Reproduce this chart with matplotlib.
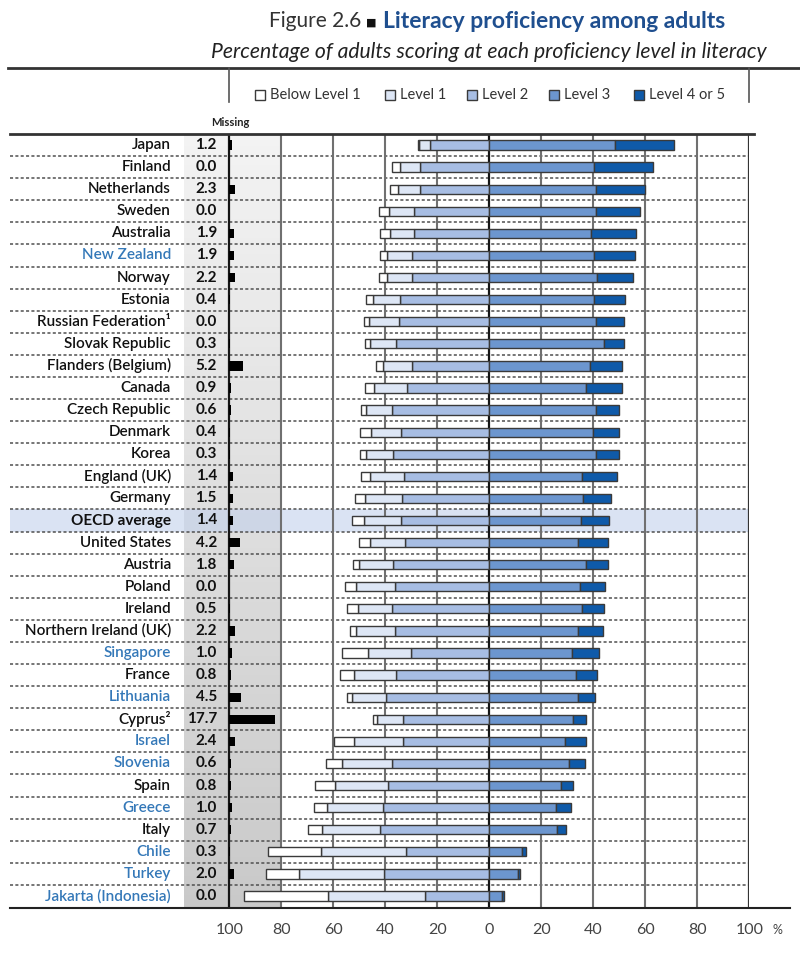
import numpy as np
import matplotlib
matplotlib.use("Agg")
import matplotlib.pyplot as plt
from matplotlib.patches import Rectangle
from matplotlib.lines import Line2D

plt.rcParams['font.family'] = ['Lato', 'DejaVu Sans']

# data (percent of adults)
countries = ["Japan", "Finland", "Netherlands", "Sweden", "Australia", "New Zealand",
             "Norway", "Estonia", "Russian Federation¹", "Slovak Republic",
             "Flanders (Belgium)", "Canada", "Czech Republic", "Denmark", "Korea",
             "England (UK)", "Germany", "OECD average", "United States", "Austria",
             "Poland", "Ireland", "Northern Ireland (UK)", "Singapore", "France",
             "Lithuania", "Cyprus²", "Israel", "Slovenia", "Spain", "Greece", "Italy",
             "Chile", "Turkey", "Jakarta (Indonesia)"]
partners = ["New Zealand", "Singapore", "Lithuania", "Israel", "Slovenia", "Greece",
            "Chile", "Turkey", "Jakarta (Indonesia)"]
missing = [1.2, 0.0, 2.3, 0.0, 1.9, 1.9, 2.2, 0.4, 0.0, 0.3, 5.2, 0.9, 0.6, 0.4, 0.3,
           1.4, 1.5, 1.4, 4.2, 1.8, 0.0, 0.5, 2.2, 1.0, 0.8, 4.5, 17.7, 2.4, 0.6, 0.8,
           1.0, 0.7, 0.3, 2.0, 0.0]
below1 = [0.6, 2.9, 2.9, 3.8, 3.6, 2.7, 3.1, 2.4, 1.8, 1.9, 2.7, 3.6, 1.6, 3.9, 2.3,
          3.4, 3.6, 4.6, 4.1, 2.5, 4.1, 4.2, 2.3, 10.1, 5.4, 2.0, 1.7, 7.9, 6.1, 7.6,
          5.0, 5.5, 20.4, 12.9, 32.3]
level1 = [4.1, 7.9, 8.8, 9.7, 9.4, 9.4, 9.4, 10.7, 11.6, 10.0, 11.3, 12.8, 10.3, 11.9,
          10.6, 13.0, 14.2, 14.4, 13.4, 13.1, 15.0, 13.4, 15.3, 16.2, 16.1, 13.2, 10.0,
          18.8, 19.2, 20.4, 21.7, 22.3, 33.0, 32.6, 37.4]
level2 = [22.8, 26.4, 26.4, 28.8, 28.8, 29.8, 29.8, 34.1, 34.7, 35.9, 29.5, 31.5, 37.2,
          33.7, 36.9, 32.9, 33.6, 33.7, 32.5, 36.9, 36.3, 37.2, 36.0, 30.2, 35.8, 39.5,
          33.1, 33.1, 37.5, 38.8, 40.8, 41.8, 31.8, 40.5, 24.5]
level3 = [48.5, 40.5, 41.3, 41.3, 39.4, 40.4, 41.4, 40.5, 41.0, 44.2, 39.0, 37.2, 41.3,
          39.9, 41.3, 35.8, 36.3, 35.3, 34.1, 37.2, 34.9, 35.6, 34.1, 32.0, 33.6, 34.4,
          32.3, 29.1, 30.9, 27.7, 25.9, 26.2, 12.5, 11.2, 5.1]
level45 = [22.7, 22.5, 18.6, 16.7, 17.0, 15.8, 14.0, 11.7, 11.0, 7.6, 12.3, 13.8, 8.8,
           10.2, 8.6, 13.3, 10.6, 10.7, 11.5, 8.4, 9.8, 8.8, 9.9, 10.2, 7.9, 6.2, 5.1,
           8.3, 5.9, 4.7, 5.5, 3.3, 1.9, 0.6, 0.6]
level_names = ["Below Level 1", "Level 1", "Level 2", "Level 3", "Level 4 or 5"]
ticks = [-100, -80, -60, -40, -20, 0, 20, 40, 60, 80, 100]

colors = ["#ffffff", "#dde6f5", "#a7bde3", "#6c96cf", "#0f5aa9"]
edge = "#3a3a3a"
blue_txt = "#3478b8"

W, H = 800, 959
fig = plt.figure(figsize=(W / 100, H / 100), dpi=100)


def fx(px):
    return px / W


def fy(py):
    return 1 - py / H


ax = fig.add_axes([fx(10), fy(907), fx(749) - fx(10), fy(134) - fy(907)])
n = len(countries)
y = np.arange(n)

# grey "missing" band with a soft gradient
grad = np.linspace(0.955, 0.79, 200)[:, None, None] * np.ones((1, 1, 3))
ax.imshow(grad, extent=[-117.5, -80, n - 0.5, -0.5], aspect='auto', zorder=0)

# OECD average highlight
oecd = countries.index("OECD average")
ax.axhspan(oecd - 0.5, oecd + 0.5, color="#c4d2ec", alpha=0.62, zorder=1, lw=0)

# dotted row separators
for k in range(n - 1):
    ax.axhline(k + 0.5, color="#505050", lw=1.1, ls=(0, (2, 1.5)), zorder=2)

# vertical grid
for t in ticks:
    if t in (-100, 0):
        c, lw = "#151515", 1.6
    elif t == 100:
        c, lw = "#333333", 1.6
    else:
        c, lw = "#707070", 1.5
    ax.axvline(t, color=c, lw=lw, zorder=2)

bh = 0.42
b1 = np.array(below1)
l1 = np.array(level1)
l2 = np.array(level2)
l3 = np.array(level3)
l45 = np.array(level45)
kw = dict(height=bh, edgecolor=edge, linewidth=1, zorder=3)
ax.barh(y, l2, left=-l2, color=colors[2], **kw)
ax.barh(y, l1, left=-(l2 + l1), color=colors[1], **kw)
ax.barh(y, b1, left=-(l2 + l1 + b1), color=colors[0], **kw)
ax.barh(y, l3, left=0, color=colors[3], **kw)
ax.barh(y, l45, left=l3, color=colors[4], **kw)
ax.barh(y, missing, left=-100, height=bh, color="black", lw=0, zorder=3)

for i, name in enumerate(countries):
    col = blue_txt if name in partners else "#111111"
    wt = "bold" if name == "OECD average" else "semibold"
    ax.text(-122.4, i, name, ha="right", va="center", fontsize=11, color=col,
            fontweight=wt, zorder=4)
    ax.text(-104.7, i, f"{missing[i]:.1f}", ha="right", va="center", fontsize=11,
            color="#111111", fontweight="bold", zorder=4)

ax.set_xlim(-184.3, 100)
ax.set_ylim(n - 0.5, -0.5)
ax.axis("off")

# frame lines
fig.add_artist(Line2D([fx(8), fx(800)], [fy(68), fy(68)], color="#333333", lw=2))
fig.add_artist(Line2D([fx(10), fx(754)], [fy(133.5), fy(133.5)], color="#333333", lw=2))
fig.add_artist(Line2D([fx(10), fx(790)], [fy(908), fy(908)], color="#222222", lw=1.5))
for px in (229, 749):
    fig.add_artist(Line2D([fx(px), fx(px)], [fy(68), fy(102)], color="#555555", lw=1.2))

# bottom tick labels
for t in ticks:
    xp = 489.3 + t * 2.6
    fig.text(fx(xp), fy(930), str(abs(t)), ha="center", va="center", fontsize=11.5,
             color="#444444")
fig.text(fx(777), fy(930), "%", ha="center", va="center", fontsize=9, color="#444444")

# legend
sq_x = [255, 385, 467, 549, 634]
for xs, c, lab in zip(sq_x, colors, level_names):
    fig.add_artist(Rectangle((fx(xs), fy(100)), fx(10), 10 / H, facecolor=c,
                             edgecolor=edge, lw=1))
    fig.text(fx(xs + 15), fy(95), lab, ha="left", va="center", fontsize=10.5,
             color="#333333")

fig.text(fx(230), fy(122), "Missing", ha="center", va="center", fontsize=8,
         fontweight="bold", color="#222222")

# titles
t2 = fig.text(fx(725), fy(21), "Literacy proficiency among adults", ha="right",
              va="center", fontsize=16.5, fontweight="bold", color="#1f4f8f")
fig.canvas.draw()
bb = t2.get_window_extent()
sq = fig.text((bb.x0 - 6) / W, fy(22), "■", ha="right", va="center",
              fontsize=8, color="#111111")
fig.canvas.draw()
bb2 = sq.get_window_extent()
fig.text((bb2.x0 - 5) / W, fy(21), "Figure 2.6", ha="right", va="center",
         fontsize=15, fontweight="normal", color="#333333")
fig.text(fx(767), fy(52), "Percentage of adults scoring at each proficiency level in literacy",
         ha="right", va="center", fontsize=15.2, style="italic", color="#222222")

fig.savefig("out.png", dpi=100)
